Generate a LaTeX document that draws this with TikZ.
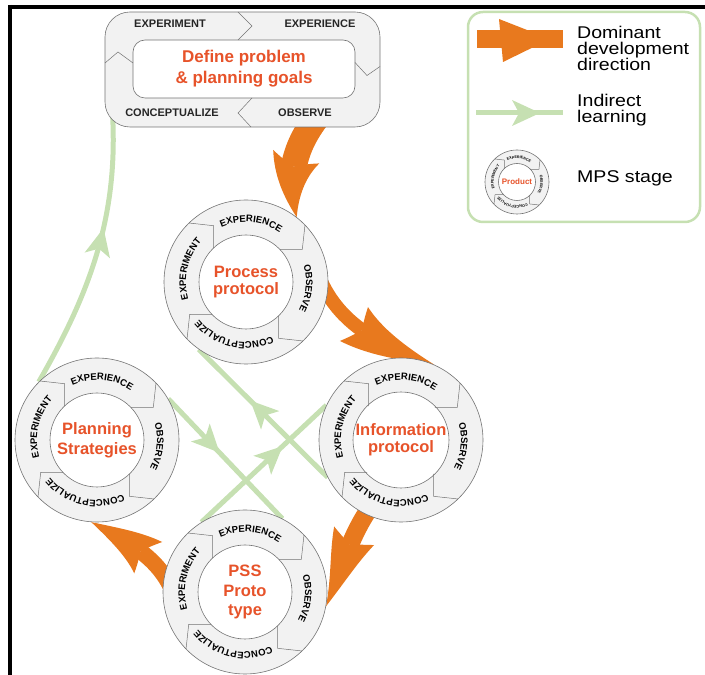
\documentclass[tikz,border=0pt]{standalone}
\usepackage{fontspec}
\setmainfont{Liberation Sans}
\newfontfamily\legendfont[FakeStretch=1.15]{Liberation Sans}
\usepackage{tikz}
\usetikzlibrary{positioning,arrows.meta,bending,decorations.text,decorations.markings,backgrounds}

\definecolor{domorange}{RGB}{232,121,30}
\definecolor{indgreen}{RGB}{198,224,178}
\definecolor{ringgrey}{RGB}{115,115,115}
\definecolor{ringfill}{RGB}{242,242,242}
\definecolor{titlered}{RGB}{231,83,42}

\newcommand{\ringfont}{\fontsize{9.5}{10}\selectfont\bfseries}
\newcommand{\iconfont}{\fontsize{3.7}{4}\selectfont\bfseries}
\newcommand{\hubfont}[1]{\fontsize{16.5}{#1}\selectfont\bfseries}

\tikzset{
  ringline/.style={draw=ringgrey, line width=0.5pt},
  stage/.style={circle, draw=ringgrey, line width=0.6pt, fill=ringfill, minimum size=164pt, inner sep=0pt},
  hub/.style={circle, draw=ringgrey, line width=0.6pt, fill=white, minimum size=94pt, inner sep=0pt,
    align=center, text=titlered, font=\hubfont{17}},
  goalbox/.style={draw=ringgrey, line width=0.6pt, fill=ringfill, rounded corners=25pt,
    minimum width=275pt, minimum height=115pt, inner sep=0pt},
  goalinner/.style={draw=ringgrey, line width=0.6pt, fill=white, rounded corners=12pt,
    minimum width=222pt, minimum height=58pt, align=center, text=titlered,
    font=\fontsize{17}{21}\selectfont\bfseries},
  boxlabel/.style={font=\fontsize{11}{12}\selectfont\bfseries, text=black!85, inner sep=0pt},
  legendbox/.style={draw=indgreen, line width=2.5pt, rounded corners=15pt,
    minimum width=232pt, minimum height=210pt},
  legendtext/.style={anchor=west, align=left, inner sep=0pt,
    font=\legendfont\fontsize{17}{16}\selectfont},
  dominant/.style n args={3}{color=domorange, line width=#1,
    -{Stealth[length=#2, width=#3, inset=12pt, line width=0pt, bend]}},
  indirect/.style={color=indgreen, line width=5pt, postaction={decorate},
    decoration={markings, mark=at position #1 with
      {\arrow{Stealth[length=28pt, width=26pt, inset=7pt, line width=0pt]}}}}
}

% chevrons and curved labels round one stage wheel
\newcommand{\stagering}[3]{%
  \begin{scope}[shift={(#1.center)}, scale=#2]
    \foreach \a in {134,44,-46,-136}
      \draw[ringline] (\a:82) -- (\a-14:65) -- (\a:47);
    \path[decorate, decoration={text along path, text align=center, text={|#3|EXPERIENCE}}]
      (145:60) arc[start angle=145, end angle=25, radius=60];
    \path[decorate, decoration={text along path, text align=center, text={|#3|OBSERVE}}]
      (54:60) arc[start angle=54, end angle=-66, radius=60];
    \path[decorate, decoration={text along path, text align=center, text={|#3|CONCEPTUALIZE}}]
      (-38:60) arc[start angle=-38, end angle=-168, radius=60];
    \path[decorate, decoration={text along path, text align=center, text={|#3|EXPERIMENT}}]
      (227:60) arc[start angle=227, end angle=107, radius=60];
  \end{scope}}

\begin{document}
\begin{tikzpicture}[x=1pt,y=1pt]
    \useasboundingbox (0,0) rectangle (705,675);
    \draw[line width=4pt] (8,668) -- (705,668);
    \draw[line width=4pt] (10,670) -- (10,0);

    % goal box at the top
    \node[goalbox] (goals) at (242.5,605.5) {};
    \node[goalinner] (goalsin) at (244,606) {Define problem\\\& planning goals};
    \node[boxlabel] (gexpt) at ([shift={(-72.5,45.5)}]goals.center) {EXPERIMENT};
    \node[boxlabel] (gexpc) at ([shift={(77.5,45.5)}]goals.center) {EXPERIENCE};
    \node[boxlabel] (gconc) at ([shift={(-70.5,-43.5)}]goals.center) {CONCEPTUALIZE};
    \node[boxlabel] (gobs) at ([shift={(62.5,-43.5)}]goals.center) {OBSERVE};
    \begin{scope}[shift={(goals.center)}, ringline]
        \draw (-4.5,57.5) -- (9.5,43.5) -- (-4.5,29.5);
        \draw (-137.5,6.5) -- (-124.5,17.5) -- (-109.5,6.5);
        \draw (112.5,7) -- (124.5,-6) -- (137.5,3);
        \draw (9.5,-28.5) -- (-4.5,-43.5) -- (8.5,-57.5);
    \end{scope}

    % stage wheels
    \node[stage] (proc) at (246,393) {};
    \node[hub] (proch) at (proc) {Process\\protocol};
    \stagering{proc}{1}{\ringfont}
    \node[stage] (info) at (401,235) {};
    \node[hub] (infoh) at (info) {Information\\protocol};
    \stagering{info}{1}{\ringfont}
    \node[stage] (plan) at (97,235) {};
    \node[hub, font=\hubfont{20}] (planh) at (plan) {Planning\\Strategies};
    \stagering{plan}{1}{\ringfont}
    \node[stage] (pss) at (245,83) {};
    \node[hub, font=\hubfont{19.5}] (pssh) at (pss) {PSS\\Proto\\type};
    \stagering{pss}{1}{\ringfont}

    % legend
    \node[legendbox] (legend) at (584,558) {};
    \fill[domorange] (477,627) rectangle (563,645);
    \fill[domorange] (499,656) -- (550,636) -- (503,613) -- cycle;
    \node[legendtext] (domtxt) at (577,627) {Dominant\\development\\direction};
    \draw[indirect=0.736] (476,562) -- (563,562);
    \node[legendtext] (indtxt) at (577,565) {Indirect\\learning};
    \node[stage, minimum size=64pt] (icon) at (517,493) {};
    \node[hub, minimum size=37pt, font=\fontsize{8}{9}\selectfont\bfseries] (iconh) at (icon) {Product};
    \stagering{icon}{0.39}{\iconfont}
    \node[legendtext] (mpstxt) at (577,497) {MPS stage};

    \begin{scope}[on background layer]
        \draw[dominant={26pt}{68pt}{48pt}] ([shift={(76,12)}]goals.south) to[out=232,in=104] (proc.52);
        \draw[dominant={14pt}{100pt}{44pt}] ([shift={(-12,0)}]proc.12) to[out=-72,in=160] (info.66);
        \draw[dominant={18pt}{88pt}{44pt}] ([shift={(0,14)}]info.250) to[out=235,in=66] (pss.-10);
        \draw[dominant={16pt}{74pt}{42pt}] ([shift={(14,0)}]pss.190) to[out=105,in=-28] (plan.266);

        \draw[indirect=0.6] (plan.135) .. controls +(50,87) and +(5,-102) .. ([shift={(8,10)}]goals.south west);
        \draw[indirect=0.6] (info.207) -- (proc.235);
        \draw[indirect=0.45] (plan.30) -- (pss.63);
        \draw[indirect=0.65] (pss.122) -- (info.155);
    \end{scope}
\end{tikzpicture}
\end{document}
